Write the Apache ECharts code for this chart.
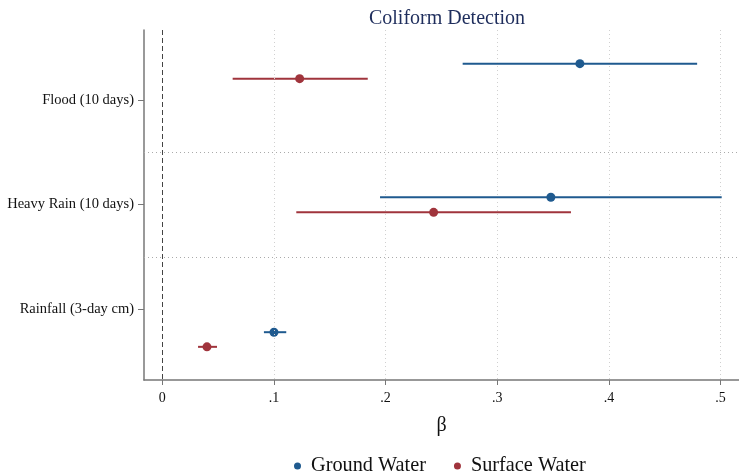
<!DOCTYPE html>
<html>
<head>
<meta charset="utf-8">
<script src="https://cdn.jsdelivr.net/npm/echarts@6/dist/echarts.min.js"></script>
<style>
  html, body { margin: 0; padding: 0; background: #fff; }
  #chart { width: 739px; height: 476px; }
</style>
</head>
<body>
<div id="chart"></div>
<script>
// rows of the plot (top to bottom)
var categories = ['Flood (10 days)', 'Heavy Rain (10 days)', 'Rainfall (3-day cm)'];
var xTicks = [0, 0.1, 0.2, 0.3, 0.4, 0.5];

// row position of each estimate (category index is 1, 2, 3)
var groundRow = [0.653, 1.93, 3.22];
var surfaceRow = [0.796, 2.074, 3.36];

// coefficients and 95% CI
var groundBeta = [0.374, 0.348, 0.100];
var groundLo = [0.269, 0.195, 0.091];
var groundHi = [0.479, 0.501, 0.111];

var surfaceBeta = [0.123, 0.243, 0.040];
var surfaceLo = [0.063, 0.120, 0.032];
var surfaceHi = [0.184, 0.366, 0.049];

var blue = '#1f5a8f';
var red = '#a0343c';
var serif = '"Liberation Serif", "DejaVu Serif", serif';

function pts(beta, row) {
    return beta.map(function (b, i) { return [b, row[i]]; });
}
function bars(lo, hi, row) {
    return lo.map(function (l, i) { return [l, hi[i], row[i]]; });
}
function ciRender(color) {
    return function (params, api) {
        var a = api.coord([api.value(0), api.value(2)]);
        var b = api.coord([api.value(1), api.value(2)]);
        return {
            type: 'line',
            shape: { x1: a[0], y1: a[1], x2: b[0], y2: b[1] },
            style: { stroke: color, lineWidth: 2 }
        };
    };
}

var myChart = echarts.init(document.getElementById('chart'));

var option = {
    animation: false,
    title: {
        text: 'Coliform Detection',
        left: 442, textAlign: 'center', top: 4,
        textStyle: { fontFamily: serif, fontSize: 20, fontWeight: 'normal', color: '#1e2d5c' }
    },
    legend: {
        bottom: -5, left: 289,
        itemWidth: 7, itemHeight: 7, itemGap: 28,
        textStyle: { fontFamily: serif, fontSize: 20.3, color: '#111', padding: [0, 0, 0, 5] },
        data: [
            { name: 'Ground Water', icon: 'circle' },
            { name: 'Surface Water', icon: 'circle' }
        ]
    },
    grid: { left: 144, right: 0, top: 30, bottom: 96 },
    xAxis: {
        type: 'value',
        min: -0.0164, max: 0.5165,
        name: 'β', nameLocation: 'middle', nameGap: 36,
        nameTextStyle: { fontFamily: serif, fontSize: 20, color: '#111' },
        axisLine: { show: true, onZero: false, lineStyle: { color: '#777', width: 1.5 } },
        axisTick: { show: true, customValues: xTicks, length: 5, lineStyle: { color: '#777' } },
        axisLabel: {
            customValues: xTicks, fontFamily: serif, fontSize: 14, color: '#111', margin: 11,
            formatter: function (v) { return v === 0 ? '0' : String(+v.toFixed(1)).replace(/^0/, ''); }
        },
        splitLine: { show: false }
    },
    yAxis: {
        type: 'value',
        inverse: true,
        min: 0.331, max: 3.677,
        axisLine: { show: true, onZero: false, lineStyle: { color: '#777', width: 1.5 } },
        axisTick: { show: true, customValues: [1, 2, 3], length: 6, lineStyle: { color: '#777' } },
        axisLabel: {
            customValues: [1, 2, 3], fontFamily: serif, fontSize: 14.5, color: '#111', margin: 10,
            formatter: function (v) { return categories[Math.round(v) - 1]; }
        },
        splitLine: { show: false }
    },
    series: [
        {
            type: 'custom',
            name: 'grid',
            silent: true,
            data: [],
            markLine: {
                silent: true, symbol: 'none', label: { show: false },
                data: [
                    { xAxis: 0.1, lineStyle: { color: '#d0d0d0', type: [1, 3], width: 1 } },
                    { xAxis: 0.2, lineStyle: { color: '#d0d0d0', type: [1, 3], width: 1 } },
                    { xAxis: 0.3, lineStyle: { color: '#d0d0d0', type: [1, 3], width: 1 } },
                    { xAxis: 0.4, lineStyle: { color: '#d0d0d0', type: [1, 3], width: 1 } },
                    { xAxis: 0.5, lineStyle: { color: '#d0d0d0', type: [1, 3], width: 1 } },
                    { yAxis: 1.5, lineStyle: { color: '#aaa', type: [1, 3], width: 1 } },
                    { yAxis: 2.5, lineStyle: { color: '#aaa', type: [1, 3], width: 1 } },
                    { xAxis: 0, lineStyle: { color: '#444', type: [5, 3], width: 1 } }
                ]
            },
            renderItem: function () { return null; }
        },
        {
            type: 'custom', name: 'Ground Water', encode: { x: [0, 1], y: 2 },
            itemStyle: { color: blue },
            data: bars(groundLo, groundHi, groundRow),
            renderItem: ciRender(blue), z: 3
        },
        {
            type: 'custom', name: 'Surface Water', encode: { x: [0, 1], y: 2 },
            itemStyle: { color: red },
            data: bars(surfaceLo, surfaceHi, surfaceRow),
            renderItem: ciRender(red), z: 3
        },
        {
            type: 'scatter', name: 'Ground Water', symbolSize: 9,
            itemStyle: { color: blue, opacity: 1 },
            data: pts(groundBeta, groundRow), z: 4
        },
        {
            type: 'scatter', name: 'Surface Water', symbolSize: 9,
            itemStyle: { color: red, opacity: 1 },
            data: pts(surfaceBeta, surfaceRow), z: 4
        }
    ]
};

myChart.setOption(option);
</script>
</body>
</html>
